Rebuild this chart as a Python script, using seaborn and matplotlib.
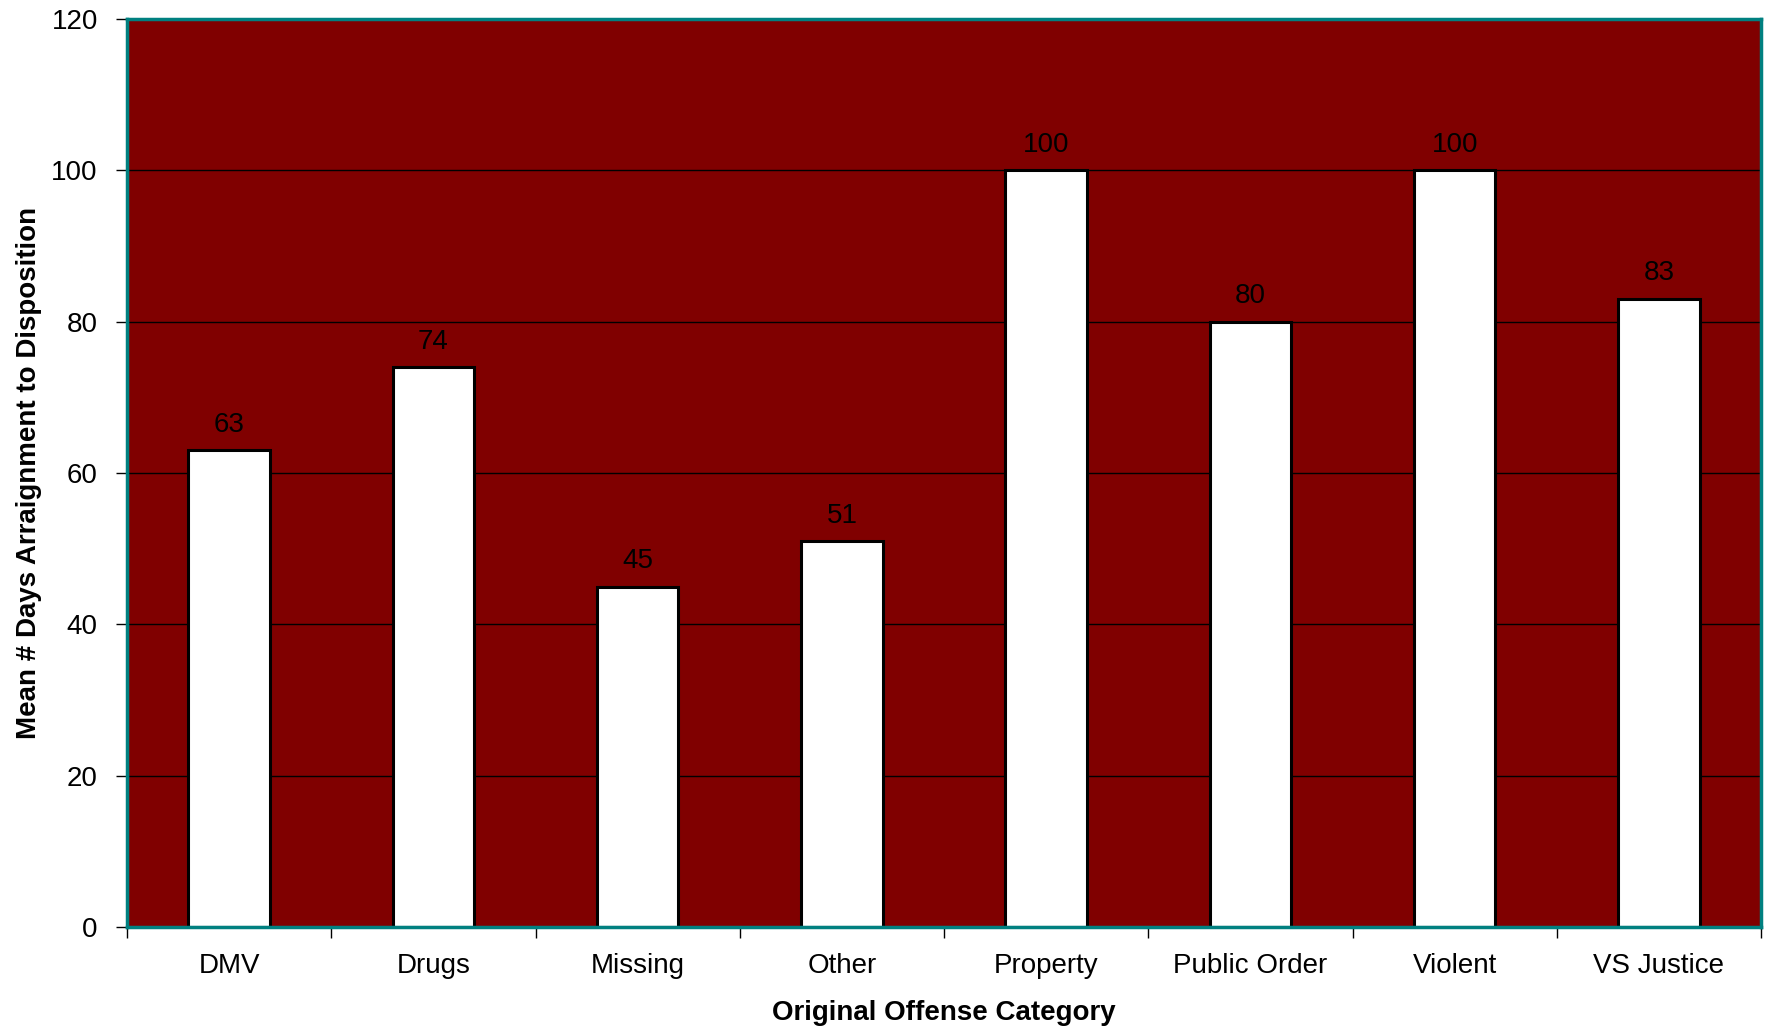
import matplotlib
matplotlib.use("Agg")
import matplotlib.pyplot as plt
import seaborn as sns
import pandas as pd
import numpy as np

categories = ["DMV", "Drugs", "Missing", "Other", "Property", "Public Order", "Violent", "VS Justice"]
values = [63, 74, 45, 51, 100, 80, 100, 83]

sns.set_style("white")
plt.rcParams['font.family'] = ['Liberation Sans', 'DejaVu Sans']
plt.rcParams['text.color'] = 'black'
plt.rcParams['axes.labelcolor'] = 'black'
plt.rcParams['xtick.color'] = 'black'
plt.rcParams['ytick.color'] = 'black'

df = pd.DataFrame({"cat": categories, "val": values})

fig = plt.figure(figsize=(17.67, 10.29), dpi=100)
ax = fig.add_axes([127/1767, 1 - 927/1029, (1761-127)/1767, (927-19)/1029])
ax.set_facecolor("#800000")

ax.set_axisbelow(True)
ax.yaxis.grid(True, color="black", linewidth=1)
ax.xaxis.grid(False)

sns.barplot(data=df, x="cat", y="val", color="white", edgecolor="black",
            linewidth=2.2, width=0.4, saturation=1, ax=ax)

FS = 20
for i, v in enumerate(values):
    ax.annotate(str(v), (i, v), xytext=(0, 9), textcoords="offset points",
                ha="center", va="bottom", fontsize=FS, color="black")

ax.set_xlim(-0.5, len(categories) - 0.5)
ax.set_ylim(0, 120)
ax.set_yticks(np.arange(0, 121, 20))
ax.tick_params(axis="y", which="major", length=8, width=1, direction="out",
               labelsize=FS, pad=13, left=True, color="black", labelcolor="black")
ax.tick_params(axis="x", which="major", length=0, labelsize=FS, pad=19, labelcolor="black")
ax.set_xticks(np.arange(-0.5, len(categories), 1.0), minor=True)
ax.tick_params(axis="x", which="minor", length=8, width=1, direction="out",
               bottom=True, color="black")

for s in ax.spines.values():
    s.set_color("#008080")
    s.set_linewidth(2.5)
    s.set_visible(True)

ax.set_xlabel("Original Offense Category", fontsize=FS, fontweight="bold", labelpad=15, color="black")
ax.set_ylabel("Mean # Days Arraignment to Disposition", fontsize=FS, fontweight="bold", labelpad=7, color="black")

fig.savefig("out.png", dpi=100)
